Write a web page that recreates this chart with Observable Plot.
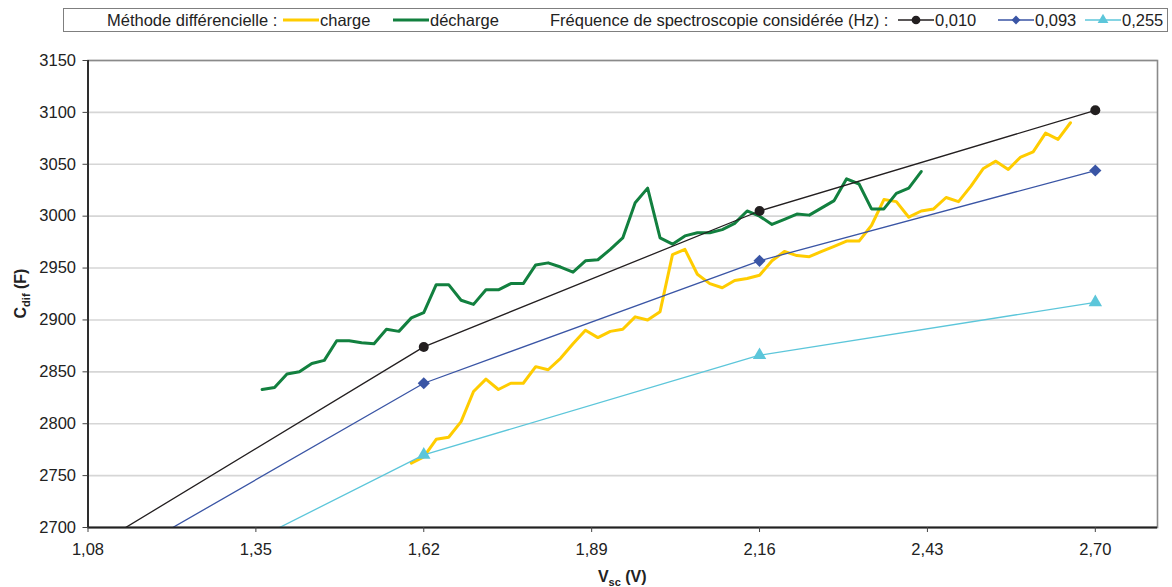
<!DOCTYPE html>
<html>
<head>
<meta charset="utf-8">
<script src="https://cdn.jsdelivr.net/npm/d3@7"></script>
<script src="https://cdn.jsdelivr.net/npm/@observablehq/plot@0.6"></script>
<style>
  html, body { margin: 0; padding: 0; background: #fff; }
  body { width: 1172px; font-family: "Liberation Sans", Arial, sans-serif; color: #222; }
  #legend { position: relative; width: 1172px; height: 40px; font-size: 16.5px; }
  #legend .box { position: absolute; left: 63px; top: 8px; width: 1105px; height: 24px; border: 1px solid #7f7f7f; box-sizing: border-box; }
  #legend .it { position: absolute; top: 11px; line-height: 18px; white-space: nowrap; }
  #legend svg { position: absolute; top: 14px; }
</style>
</head>
<body>
<div id="legend"></div>
<div id="chart"></div>
<script>
// ---- data ----
const chargeV = [1.60,1.62,1.64,1.66,1.68,1.70,1.72,1.74,1.76,1.78,1.80,1.82,1.84,1.86,1.88,1.90,1.92,1.94,1.96,1.98,2.00,2.02,2.04,2.06,2.08,2.10,2.12,2.14,2.16,2.18,2.20,2.22,2.24,2.26,2.28,2.30,2.32,2.34,2.36,2.38,2.40,2.42,2.44,2.46,2.48,2.50,2.52,2.54,2.56,2.58,2.60,2.62,2.64,2.66];
const chargeC = [2762,2768,2785,2787,2802,2831,2843,2833,2839,2839,2855,2852,2863,2877,2890,2883,2889,2891,2903,2900,2908,2963,2968,2944,2935,2931,2938,2940,2943,2957,2966,2962,2961,2966,2971,2976,2976,2991,3016,3014,2999,3005,3007,3018,3014,3029,3046,3053,3045,3057,3062,3080,3074,3090];
const dechargeV = [1.36,1.38,1.40,1.42,1.44,1.46,1.48,1.50,1.52,1.54,1.56,1.58,1.60,1.62,1.64,1.66,1.68,1.70,1.72,1.74,1.76,1.78,1.80,1.82,1.84,1.86,1.88,1.90,1.92,1.94,1.96,1.98,2.00,2.02,2.04,2.06,2.08,2.10,2.12,2.14,2.16,2.18,2.20,2.22,2.24,2.26,2.28,2.30,2.32,2.34,2.36,2.38,2.40,2.42];
const dechargeC = [2833,2835,2848,2850,2858,2861,2880,2880,2878,2877,2891,2889,2902,2907,2934,2934,2919,2915,2929,2929,2935,2935,2953,2955,2951,2946,2957,2958,2968,2979,3013,3027,2979,2973,2981,2984,2984,2987,2993,3005,3000,2992,2997,3002,3001,3008,3015,3036,3031,3007,3007,3022,3027,3043];
const freqV = [1.08, 1.62, 2.16, 2.70];
const freq010 = [2678, 2874, 3005, 3102];
const freq093 = [2653, 2839, 2957, 3044];
const freq255 = [2607, 2770, 2866, 2917];
const xTicks = [1.08, 1.35, 1.62, 1.89, 2.16, 2.43, 2.70];
const yTicks = [2700, 2750, 2800, 2850, 2900, 2950, 3000, 3050, 3100, 3150];

const colors = { charge: "#FFCC00", decharge: "#12803F", f010: "#231F20", f093: "#3A55A5", f255: "#5CC6DA" };

const charge = chargeV.map((v, i) => ({ v, c: chargeC[i] }));
const decharge = dechargeV.map((v, i) => ({ v, c: dechargeC[i] }));
const mk = arr => freqV.map((v, i) => ({ v, c: arr[i] }));
const f010 = mk(freq010), f093 = mk(freq093), f255 = mk(freq255);

const fmt = d => d.toFixed(2).replace(".", ",");

const chart = Plot.plot({
  width: 1172,
  height: 547,
  marginLeft: 87.5,
  marginRight: 15,
  marginTop: 20,
  marginBottom: 60,
  style: { fontFamily: "Liberation Sans, Arial, sans-serif", fontSize: "16.5px", color: "#222", background: "#fff" },
  x: { domain: [1.08, 2.80] },
  y: { domain: [2700, 3150] },
  marks: [
    Plot.gridY(yTicks, { stroke: "#d6d6d6", strokeOpacity: 1, strokeWidth: 1.6 }),
    Plot.frame({ stroke: "#8a8a8a", strokeWidth: 1.6 }),
    Plot.line(charge, { x: "v", y: "c", stroke: colors.charge, strokeWidth: 3, clip: true }),
    Plot.line(decharge, { x: "v", y: "c", stroke: colors.decharge, strokeWidth: 3, clip: true }),
    Plot.line(f010, { x: "v", y: "c", stroke: colors.f010, strokeWidth: 1.3, clip: true }),
    Plot.line(f093, { x: "v", y: "c", stroke: colors.f093, strokeWidth: 1.3, clip: true }),
    Plot.line(f255, { x: "v", y: "c", stroke: colors.f255, strokeWidth: 1.3, clip: true }),
    Plot.dot(f010, { x: "v", y: "c", r: 5, fill: colors.f010, symbol: "circle", clip: true }),
    Plot.dot(f093, { x: "v", y: "c", r: 5.5, fill: colors.f093, symbol: "diamond2", clip: true }),
    Plot.dot(f255, { x: "v", y: "c", r: 5, fill: colors.f255, symbol: "triangle", clip: true }),
    Plot.ruleX([1.08], { stroke: "#222", strokeWidth: 1.8 }),
    Plot.ruleY([2700], { stroke: "#222", strokeWidth: 1.8 }),
    Plot.axisX(xTicks, { tickFormat: fmt, tickSize: 5, tickPadding: 11, stroke: "#444", label: null }),
    Plot.axisY(yTicks, { tickSize: 5, tickPadding: 7, stroke: "#444", label: null, tickFormat: d => String(d) })
  ]
});
document.getElementById("chart").appendChild(chart);

// axis titles with subscripts
const svg = d3.select(chart);
const yt = svg.append("text")
  .attr("transform", "translate(26," + ((20 + 487) / 2) + ") rotate(-90)")
  .attr("text-anchor", "middle")
  .attr("font-weight", "bold")
  .attr("font-size", 16)
  .attr("fill", "#222");
yt.append("tspan").text("C");
yt.append("tspan").attr("font-size", 11).attr("dy", 4).text("dif");
yt.append("tspan").attr("dy", -4).text(" (F)");

const xt = svg.append("text")
  .attr("x", (87.5 + 1157) / 2)
  .attr("y", 542)
  .attr("text-anchor", "middle")
  .attr("font-weight", "bold")
  .attr("font-size", 16)
  .attr("fill", "#222");
xt.append("tspan").text("V");
xt.append("tspan").attr("font-size", 11).attr("dy", 4).text("sc");
xt.append("tspan").attr("dy", -4).text(" (V)");

// legend
const legendItems = [
  { type: "text", x: 107, text: "Méthode différencielle :" },
  { type: "swatch", x: 283, color: colors.charge, w: 3, sym: null },
  { type: "text", x: 320, text: "charge" },
  { type: "swatch", x: 393, color: colors.decharge, w: 3, sym: null },
  { type: "text", x: 430, text: "décharge" },
  { type: "text", x: 550, text: "Fréquence de spectroscopie considérée (Hz) :" },
  { type: "swatch", x: 898, color: colors.f010, w: 1.5, sym: "circle" },
  { type: "text", x: 935, text: "0,010" },
  { type: "swatch", x: 998, color: colors.f093, w: 1.5, sym: "diamond" },
  { type: "text", x: 1035, text: "0,093" },
  { type: "swatch", x: 1085, color: colors.f255, w: 1.5, sym: "triangle" },
  { type: "text", x: 1122, text: "0,255" }
];
const legend = d3.select("#legend");
legend.append("div").attr("class", "box");
for (const it of legendItems) {
  if (it.type === "text") {
    legend.append("div").attr("class", "it").style("left", it.x + "px").text(it.text);
  } else {
    const s = legend.append("svg").attr("width", 36).attr("height", 12).style("left", it.x + "px");
    s.append("line").attr("x1", 0).attr("x2", 36).attr("y1", 6).attr("y2", 6).attr("stroke", it.color).attr("stroke-width", it.w);
    if (it.sym) {
      const sym = it.sym === "circle" ? d3.symbolCircle : it.sym === "diamond" ? d3.symbolDiamond2 : d3.symbolTriangle;
      const size = it.sym === "circle" ? 60 : it.sym === "diamond" ? 50 : 50;
      s.append("path").attr("d", d3.symbol(sym, size)()).attr("transform", "translate(18,6)").attr("fill", it.color);
    }
  }
}
</script>
</body>
</html>
